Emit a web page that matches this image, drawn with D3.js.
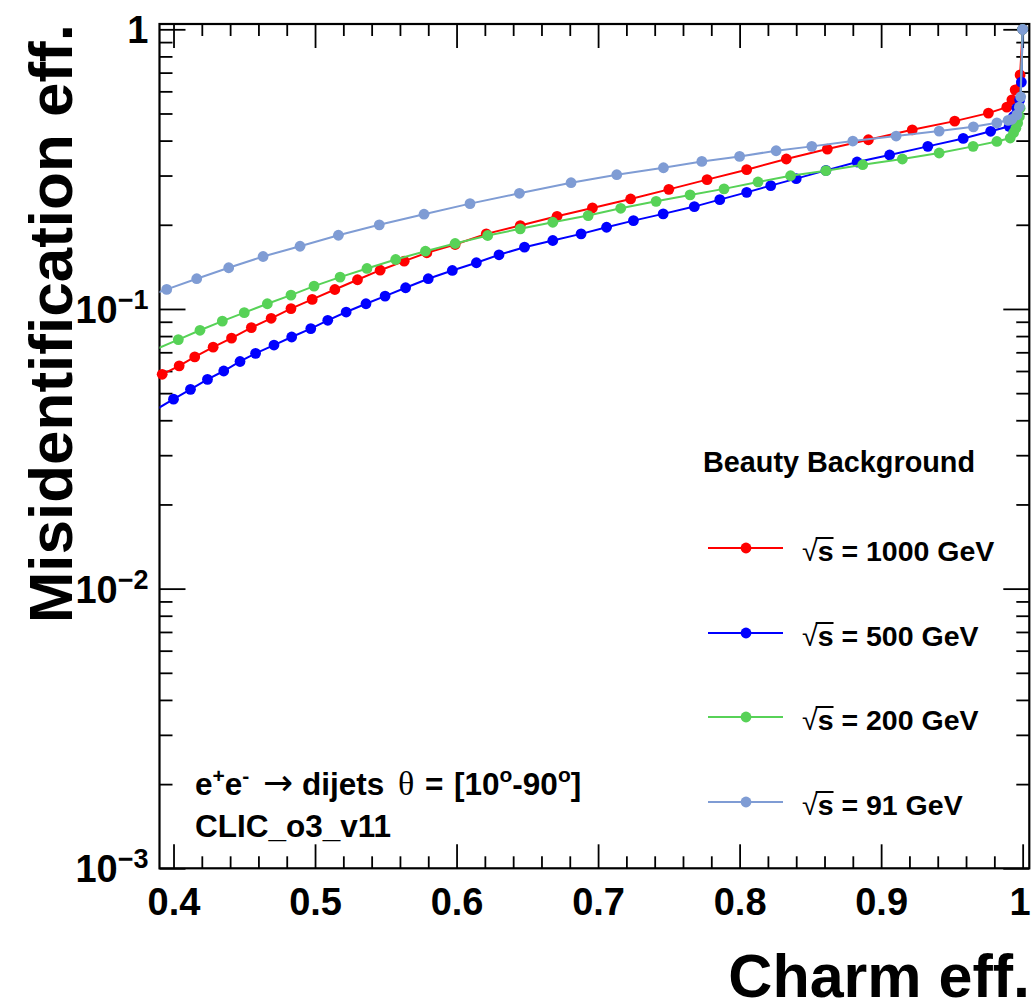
<!DOCTYPE html>
<html>
<head>
<meta charset="utf-8">
<script src="https://cdn.jsdelivr.net/npm/d3@7"></script>
<style>
  body { margin: 0; background: #fff; }
  svg text { font-family: "Liberation Sans", Arial, Helvetica, sans-serif; font-weight: bold; fill: #000; }
</style>
</head>
<body>
<svg id="chart" width="1032" height="1006"></svg>
<script>
// charm eff. (x) vs beauty misidentification eff. (y), one pair of arrays per energy
const x1000 = [0.392, 0.404, 0.415, 0.428, 0.441, 0.455, 0.469, 0.483, 0.498, 0.514, 0.530, 0.546, 0.563, 0.579, 0.599, 0.621, 0.645, 0.671, 0.696, 0.723, 0.750, 0.777, 0.805, 0.833, 0.862, 0.891, 0.922, 0.952, 0.9758, 0.9888, 0.9924, 0.9947, 0.9982, 1.0];
const y1000 = [0.0584, 0.0626, 0.0674, 0.0730, 0.0787, 0.0858, 0.0926, 0.1003, 0.1082, 0.1174, 0.1272, 0.1376, 0.1482, 0.1588, 0.170, 0.1856, 0.1987, 0.2145, 0.2298, 0.2474, 0.2677, 0.290, 0.3148, 0.3438, 0.373, 0.4028, 0.437, 0.4695, 0.5016, 0.5268, 0.5596, 0.6073, 0.687, 1.0];

const x500 = [0.387, 0.400, 0.412, 0.424, 0.4355, 0.447, 0.458, 0.471, 0.4835, 0.497, 0.509, 0.522, 0.536, 0.5495, 0.564, 0.580, 0.597, 0.614, 0.630, 0.648, 0.668, 0.688, 0.706, 0.725, 0.746, 0.768, 0.786, 0.805, 0.822, 0.840, 0.861, 0.883, 0.906, 0.933, 0.958, 0.9774, 0.9905, 0.9935, 0.9959, 0.9979, 0.9991, 1.0];
const y500 = [0.0435, 0.0476, 0.0516, 0.0560, 0.0600, 0.0649, 0.0694, 0.0743, 0.0794, 0.0851, 0.0911, 0.0975, 0.1044, 0.1112, 0.1191, 0.1283, 0.1373, 0.1463, 0.1562, 0.1663, 0.1757, 0.1856, 0.196, 0.207, 0.2188, 0.2323, 0.246, 0.2612, 0.2761, 0.2924, 0.313, 0.3353, 0.3552, 0.3814, 0.4072, 0.4318, 0.4499, 0.4879, 0.5225, 0.5596, 0.6474, 1.0];

const x200 = [0.387, 0.4034, 0.4187, 0.4345, 0.450, 0.4663, 0.483, 0.4993, 0.5177, 0.5367, 0.557, 0.578, 0.599, 0.622, 0.645, 0.668, 0.693, 0.716, 0.741, 0.765, 0.789, 0.813, 0.836, 0.861, 0.887, 0.915, 0.941, 0.965, 0.9818, 0.9912, 0.9936, 0.9952, 0.9965, 0.9977, 0.9982, 1.0];
const y200 = [0.0716, 0.0777, 0.0839, 0.0905, 0.0970, 0.1044, 0.1121, 0.1207, 0.130, 0.1396, 0.1503, 0.1609, 0.1714, 0.1831, 0.1934, 0.2042, 0.2157, 0.2291, 0.2426, 0.2557, 0.2688, 0.2845, 0.2996, 0.3122, 0.328, 0.3438, 0.3611, 0.3814, 0.3972, 0.4085, 0.4266, 0.4427, 0.462, 0.4879, 0.5225, 1.0];

const x91 = [0.387, 0.3952, 0.4164, 0.439, 0.4633, 0.4894, 0.5165, 0.5454, 0.577, 0.6095, 0.6444, 0.6809, 0.7132, 0.7462, 0.7733, 0.800, 0.8258, 0.851, 0.880, 0.9106, 0.941, 0.9652, 0.9818, 0.9897, 0.9924, 0.9959, 0.9977, 0.9986, 1.0];
const y91 = [0.1135, 0.1175, 0.1283, 0.1404, 0.154, 0.1676, 0.1835, 0.1999, 0.2182, 0.238, 0.2592, 0.2828, 0.302, 0.3199, 0.3369, 0.3511, 0.3679, 0.3814, 0.3985, 0.4153, 0.4325, 0.448, 0.463, 0.4726, 0.4767, 0.4946, 0.5268, 0.5735, 1.0];

const energies = ["1000", "500", "200", "91"];
const xTicks = [0.4, 0.5, 0.6, 0.7, 0.8, 0.9, 1.0];
const xTickLabels = ["0.4", "0.5", "0.6", "0.7", "0.8", "0.9", "1"];
const yTicks = [0.001, 0.01, 0.1, 1];
const yTickBase = ["10", "10", "10", "1"];
const yTickExp = ["\u22123", "\u22122", "\u22121", ""];

const series = [
  { label: energies[0], xs: x1000, ys: y1000, color: "#ff0000" },
  { label: energies[1], xs: x500, ys: y500, color: "#0000ff" },
  { label: energies[2], xs: x200, ys: y200, color: "#57d257" },
  { label: energies[3], xs: x91, ys: y91, color: "#7f9cd4" }
];

drawChart("#chart");

function drawChart(elm) {
  var svg = d3.select(elm);
  var margin = { top: 24, right: 2.7, bottom: 137.7, left: 159.5 },
    width = 1032 - margin.left - margin.right,
    height = 1006 - margin.top - margin.bottom;

  var g = svg.append("g").attr("transform", `translate(${margin.left},${margin.top})`);

  const x = d3.scaleLinear().domain([0.3901, 1.0047]).range([0, width]);
  const y = d3.scaleLog().domain([0.001, 1.0446]).range([height, 0]);

  svg.append("defs").append("clipPath").attr("id", "frameClip")
    .append("rect").attr("width", width).attr("height", height);

  // minor tick values
  const xMinor = d3.range(0.42, 1.0, 0.02).filter(v => Math.abs(v * 10 - Math.round(v * 10)) > 1e-6);
  const yMinor = [];
  [0.001, 0.01, 0.1].forEach(d => { for (let k = 2; k <= 9; k++) yMinor.push(k * d); });

  const noDomain = sel => sel.select(".domain").remove();
  const tickStyle = sel => sel.selectAll("line").attr("stroke", "#000").attr("stroke-width", 1.8);

  // bottom / top axes (ticks pointing inwards)
  g.append("g").attr("transform", `translate(0,${height})`)
    .call(d3.axisBottom(x).tickValues(xTicks).tickSize(-24).tickPadding(20)
      .tickFormat((d, i) => xTickLabels[i]))
    .call(noDomain).call(tickStyle)
    .selectAll("text")
    .attr("font-size", 38).attr("font-family", null).attr("dy", "0.71em")
    .attr("dx", (d, i) => i === xTicks.length - 1 ? -3 : 0);
  g.append("g").attr("transform", `translate(0,${height})`)
    .call(d3.axisBottom(x).tickValues(xMinor).tickSize(-12).tickFormat(""))
    .call(noDomain).call(tickStyle);
  g.append("g")
    .call(d3.axisTop(x).tickValues(xTicks).tickSize(-24).tickFormat(""))
    .call(noDomain).call(tickStyle);
  g.append("g")
    .call(d3.axisTop(x).tickValues(xMinor).tickSize(-12).tickFormat(""))
    .call(noDomain).call(tickStyle);

  // left / right axes
  g.append("g")
    .call(d3.axisLeft(y).tickValues(yTicks).tickSize(-26).tickFormat(""))
    .call(noDomain).call(tickStyle);
  g.append("g")
    .call(d3.axisLeft(y).tickValues(yMinor).tickSize(-13).tickFormat(""))
    .call(noDomain).call(tickStyle);
  g.append("g").attr("transform", `translate(${width},0)`)
    .call(d3.axisRight(y).tickValues(yTicks).tickSize(-26).tickFormat(""))
    .call(noDomain).call(tickStyle);
  g.append("g").attr("transform", `translate(${width},0)`)
    .call(d3.axisRight(y).tickValues(yMinor).tickSize(-13).tickFormat(""))
    .call(noDomain).call(tickStyle);

  // y tick labels with exponents
  yTicks.forEach((v, i) => {
    const t = g.append("text")
      .attr("x", -11)
      .attr("y", y(v) + 14)
      .attr("text-anchor", "end")
      .attr("font-size", 38);
    t.append("tspan").text(yTickBase[i]);
    if (yTickExp[i]) {
      t.append("tspan").attr("font-size", 27).attr("dy", -14).text(yTickExp[i]);
    }
  });

  // frame
  g.append("rect").attr("width", width).attr("height", height)
    .attr("fill", "none").attr("stroke", "#000").attr("stroke-width", 2.2);

  // curves
  const line = d3.line().x(d => x(d[0])).y(d => y(d[1]));
  const [x0, x1] = x.domain();
  series.forEach(s => {
    const pts = s.xs.map((v, i) => [v, s.ys[i]]);
    g.append("path")
      .datum(pts)
      .attr("clip-path", "url(#frameClip)")
      .attr("fill", "none")
      .attr("stroke", s.color)
      .attr("stroke-width", 2)
      .attr("d", line);
    g.append("g").selectAll("circle")
      .data(pts.filter(d => d[0] >= x0 && d[0] <= x1))
      .join("circle")
      .attr("cx", d => x(d[0]))
      .attr("cy", d => y(d[1]))
      .attr("r", 5.4)
      .attr("fill", s.color);
  });

  // axis titles
  svg.append("text")
    .attr("transform", "translate(72,24) rotate(-90)")
    .attr("text-anchor", "end")
    .attr("font-size", 62)
    .text("Misidentification eff.");
  svg.append("text")
    .attr("x", 1030).attr("y", 997)
    .attr("text-anchor", "end")
    .attr("font-size", 61)
    .text("Charm eff.");

  // legend
  svg.append("text").attr("x", 703).attr("y", 472).attr("font-size", 28.8)
    .text("Beauty Background");
  const legY = [548, 633, 717, 802];
  series.forEach((s, i) => {
    const lg = svg.append("g").attr("transform", `translate(0,${legY[i]})`);
    lg.append("line").attr("x1", 708).attr("x2", 783)
      .attr("stroke", s.color).attr("stroke-width", 2);
    lg.append("circle").attr("cx", 746).attr("r", 5.4).attr("fill", s.color);
    const t = lg.append("text").attr("x", 802).attr("y", 13).attr("font-size", 28.5);
    t.append("tspan").attr("font-weight", "normal").text("\u221A");
    t.append("tspan").text("s");
    t.append("tspan").text(" = " + s.label + " GeV");
    const r = t.node().getExtentOfChar(0), c = t.node().getExtentOfChar(1);
    lg.append("line")
      .attr("x1", r.x + r.width - 2).attr("x2", c.x + c.width)
      .attr("y1", -10).attr("y2", -10)
      .attr("stroke", "#000").attr("stroke-width", 2);
  });

  // annotation
  const fs = 31.5;
  const a1 = svg.append("text").attr("x", 195).attr("y", 795).attr("font-size", fs);
  a1.append("tspan").text("e");
  a1.append("tspan").attr("font-size", 21).attr("dy", -12).text("+");
  a1.append("tspan").attr("dy", 12).text("e");
  a1.append("tspan").attr("font-size", 21).attr("dy", -12).text("-");
  a1.append("tspan").attr("x", 263).attr("dy", 12).attr("font-weight", "normal")
    .attr("font-family", "DejaVu Sans").attr("font-size", 36).text("\u2192");
  a1.append("tspan").attr("x", 302).text("dijets");
  a1.append("tspan").attr("x", 398).attr("font-weight", "normal")
    .attr("font-family", "Liberation Serif").attr("font-size", 34).text("\u03B8");
  a1.append("tspan").attr("x", 425).text("=");
  a1.append("tspan").attr("x", 454).text("[10");
  a1.append("tspan").attr("font-size", 21).attr("dy", -13).text("o");
  a1.append("tspan").attr("dy", 13).text("-90");
  a1.append("tspan").attr("font-size", 21).attr("dy", -13).text("o");
  a1.append("tspan").attr("dy", 13).text("]");
  svg.append("text").attr("x", 195).attr("y", 837).attr("font-size", fs).text("CLIC_o3_v11");
}
</script>
</body>
</html>
